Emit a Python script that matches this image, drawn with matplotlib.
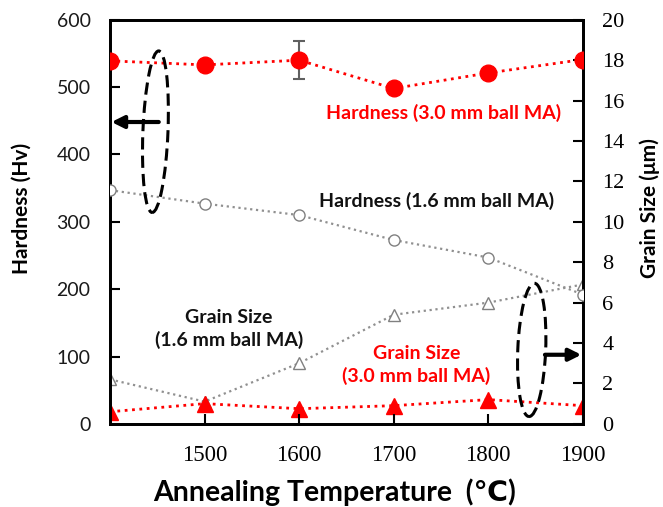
import matplotlib
matplotlib.use("Agg")
import matplotlib.pyplot as plt
from matplotlib.patches import Ellipse

temps = [1400, 1500, 1600, 1700, 1800, 1900]
hard_30 = [539, 533, 540, 498, 521, 541]
hard_30_err = [0, 0, 28, 0, 0, 0]
hard_16 = [347, 327, 310, 273, 247, 192]
grain_16 = [2.2, 1.1, 3.0, 5.4, 6.0, 6.9]
grain_30 = [0.6, 1.0, 0.75, 0.9, 1.2, 0.9]

xticks = [1500, 1600, 1700, 1800, 1900]
yticks_left = list(range(0, 601, 100))
yticks_right = list(range(0, 21, 2))

sans = ['Lato', 'DejaVu Sans']
serif = ['Liberation Serif', 'DejaVu Serif']

fig = plt.figure(figsize=(6.63, 5.07), dpi=100)
ax = fig.add_axes([0.166, 0.164, 0.713, 0.797])
ax2 = ax.twinx()

ax.set_zorder(2)
ax.patch.set_visible(False)

# Hardness series (left axis)
ax.plot(temps, hard_16, color='#909090', ls=':', lw=1.6, marker='o', ms=8,
        mfc='white', mec='#808080', mew=1.0, zorder=3)
ax.errorbar(temps[2:3], hard_30[2:3], yerr=hard_30_err[2:3], fmt='none',
            ecolor='#606060', elinewidth=1.5, capsize=4, capthick=1.5, zorder=3)
ax.plot(temps, hard_30, color='#ff0000', ls=':', lw=2.0, marker='o', ms=12,
        mfc='#ff0000', mec='#ff0000', zorder=4)

# Grain size series (right axis)
ax2.plot(temps, grain_16, color='#909090', ls=':', lw=1.6, marker='^', ms=8,
         mfc='white', mec='#808080', mew=1.0)
ax2.plot(temps, grain_30, color='#ff0000', ls=':', lw=2.0, marker='^', ms=11,
         mfc='#ff0000', mec='#ff0000')

ax.set_xlim(1400, 1900)
ax.set_ylim(0, 600)
ax2.set_ylim(0, 20)
ax.set_xticks(xticks)
ax.set_yticks(yticks_left)
ax2.set_yticks(yticks_right)

for a in (ax, ax2):
    for s in a.spines.values():
        s.set_linewidth(2.0)
        s.set_color('black')
ax.tick_params(axis='both', direction='in', length=7, width=1.5)
ax2.tick_params(axis='y', direction='in', length=7, width=1.5)

for lab in ax.get_yticklabels():
    lab.set_family(sans)
    lab.set_fontsize(14)
    lab.set_color('#1a1a1a')
for lab in ax.get_xticklabels():
    lab.set_family(serif)
    lab.set_fontsize(16.5)
for lab in ax2.get_yticklabels():
    lab.set_family(serif)
    lab.set_fontsize(16)
ax.tick_params(axis='x', pad=15)
ax.tick_params(axis='y', pad=14)
ax2.tick_params(axis='y', pad=14)

# Axis titles
fig.text(22 / 663, 1 - 208 / 507, 'Hardness (Hv)', family=sans, fontsize=15,
         fontweight='bold', rotation=90, ha='center', va='center')
fig.text(650 / 663, 1 - 208 / 507, 'Grain Size (μm)', family=sans, fontsize=15,
         fontweight='bold', rotation=90, ha='center', va='center')
fig.text(335 / 663, 1 - 492 / 507, 'Annealing Temperature  (℃)', family=sans, fontsize=20.5,
         fontweight='bold', ha='center', va='center')

# Annotations
fs = 14
ax.text(0.706, 0.77, 'Hardness (3.0 mm ball MA)', transform=ax.transAxes, color='#ff0000',
        family=sans, fontsize=fs, fontweight='bold', ha='center', va='center')
ax.text(0.691, 0.552, 'Hardness (1.6 mm ball MA)', transform=ax.transAxes, color='#111111',
        family=sans, fontsize=fs, fontweight='bold', ha='center', va='center')
ax.text(0.252, 0.235, 'Grain Size\n(1.6 mm ball MA)', transform=ax.transAxes, color='#111111',
        family=sans, fontsize=fs, fontweight='bold', ha='center', va='center', linespacing=1.3)
ax.text(0.648, 0.146, 'Grain Size\n(3.0 mm ball MA)', transform=ax.transAxes, color='#ff0000',
        family=sans, fontsize=fs, fontweight='bold', ha='center', va='center', linespacing=1.3)

# Dashed ellipses
ax.add_patch(Ellipse((0.096, 0.723), 0.053, 0.40, angle=-2, transform=ax.transAxes,
                     fill=False, ls=(0, (4, 2)), lw=2.2, ec='black', zorder=5))
ax.add_patch(Ellipse((0.892, 0.183), 0.059, 0.33, angle=-2, transform=ax.transAxes,
                     fill=False, ls=(0, (4, 2)), lw=2.2, ec='black', zorder=5))

# Arrows
ax.annotate('', xy=(0.003, 0.747), xytext=(0.103, 0.747), xycoords='axes fraction',
            arrowprops=dict(arrowstyle='-|>', lw=3, color='black', mutation_scale=18,
                            shrinkA=0, shrinkB=0), zorder=6)
ax.annotate('', xy=(0.997, 0.171), xytext=(0.92, 0.171), xycoords='axes fraction',
            arrowprops=dict(arrowstyle='-|>', lw=3, color='black', mutation_scale=18,
                            shrinkA=0, shrinkB=0), zorder=6)

fig.savefig('out.png', dpi=100)
